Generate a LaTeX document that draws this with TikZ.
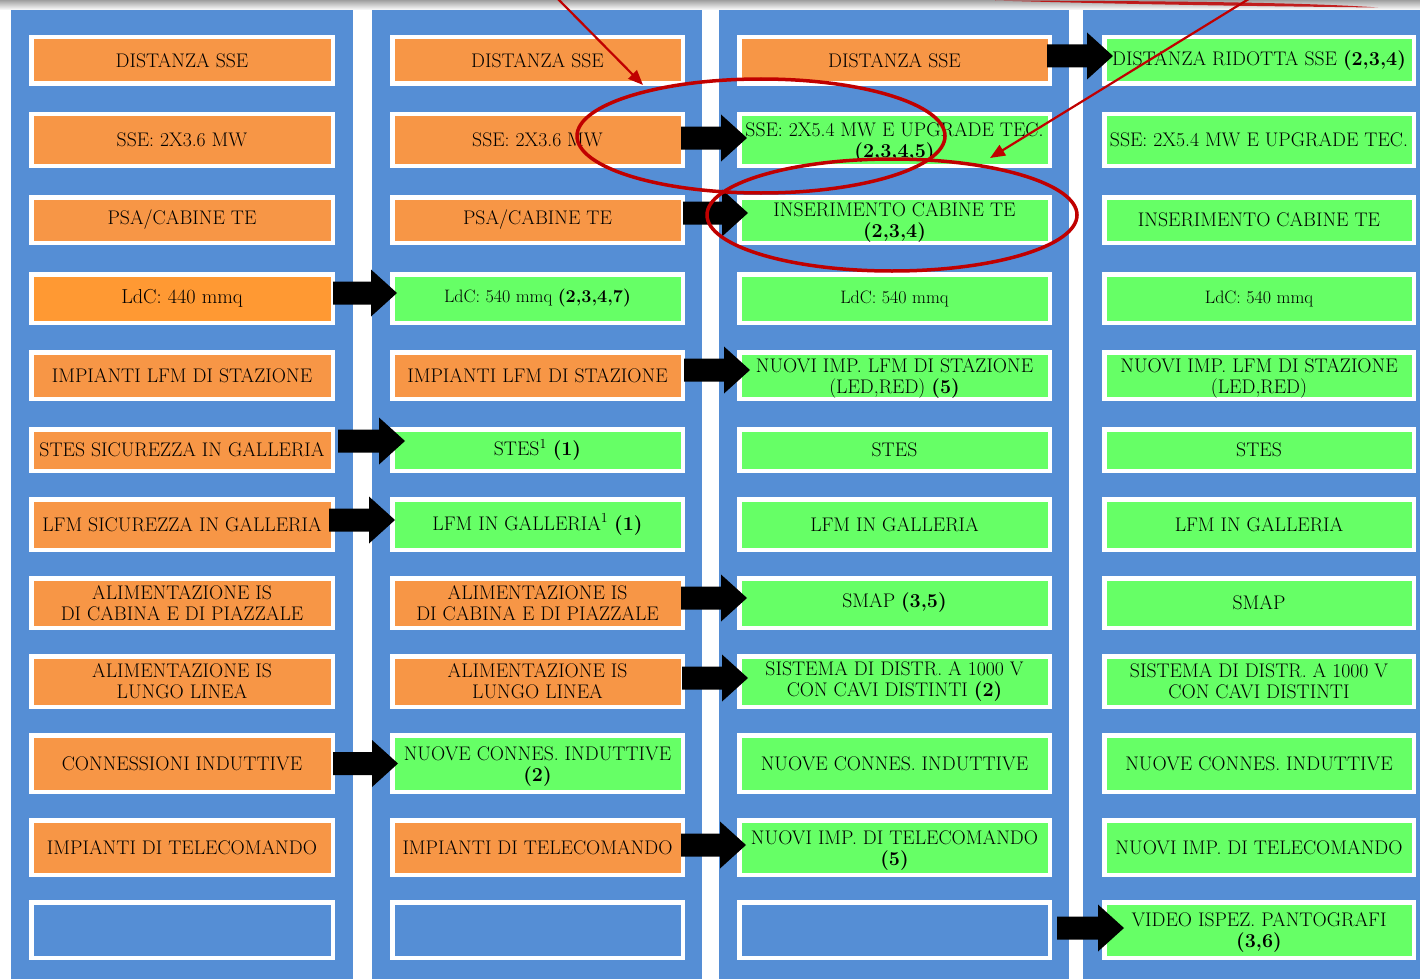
\documentclass[tikz,border=0pt]{standalone}
\usepackage{fontspec}
\usetikzlibrary{calc,arrows.meta}
\definecolor{colblue}{HTML}{558ED5}
\definecolor{boxorange}{HTML}{F79646}
\definecolor{ldcorange}{HTML}{FF9933}
\definecolor{boxgreen}{HTML}{66FF66}
\definecolor{markred}{HTML}{C00000}
\newcommand{\firstln}{\rule{0pt}{19.5pt}}
\tikzset{
  box/.style={draw=white, line width=4.5pt, inner sep=0pt, align=center,
    font=\fontsize{19.7}{21}\selectfont, text=black},
  ob/.style={box, fill=boxorange},
  gb/.style={box, fill=boxgreen},
  eb/.style={box, fill=colblue},
  ldc/.style={font=\fontsize{18}{21}\selectfont},
  c1/.style={minimum width=301.5pt},
  c2/.style={minimum width=290.5pt},
  c3/.style={minimum width=310.5pt},
  c4/.style={minimum width=309.5pt},
  r1/.style={minimum height=46.5pt},
  r2/.style={minimum height=51.5pt},
  r3/.style={minimum height=45.5pt},
  r4/.style={minimum height=48.5pt},
  r5/.style={minimum height=46.5pt},
  r6/.style={minimum height=41.5pt},
  r7/.style={minimum height=50.5pt},
  r8/.style={minimum height=49.5pt},
  r9/.style={minimum height=50.5pt},
  r10/.style={minimum height=56.5pt},
  r11/.style={minimum height=54.5pt},
  r12/.style={minimum height=55.5pt},
  column/.style={fill=colblue},
  redmark/.style={draw=markred, line width=3.5pt},
  redarrow/.style={draw=markred, line width=2.2pt, -{Triangle[length=15pt,width=12pt]}},
}
% block arrow: #1 source, #2 target, #3 vertical shift (down), #4 start offset, #5 tip offset
\newcommand{\blockarrow}[5]{%
  \fill[black] let \p1=(#1.east), \p2=(#2.west) in
    ({\x1+(#4pt)},{\y1-(#3pt)+11.5pt}) --
    ({\x2+(#5pt)-26pt},{\y1-(#3pt)+11.5pt}) --
    ({\x2+(#5pt)-26pt},{\y1-(#3pt)+23.5pt}) --
    ({\x2+(#5pt)},{\y1-(#3pt)}) --
    ({\x2+(#5pt)-26pt},{\y1-(#3pt)-23.5pt}) --
    ({\x2+(#5pt)-26pt},{\y1-(#3pt)-11.5pt}) --
    ({\x1+(#4pt)},{\y1-(#3pt)-11.5pt}) -- cycle;}
\begin{document}
\begin{tikzpicture}[x=1pt,y=-1pt]
\useasboundingbox (0,0) rectangle (1420,979);
\fill[white] (0,0) rectangle (1420,979);
\shade[top color=gray!75, bottom color=white] (0,0) rectangle (1420,10);
% columns
\fill[column] (11,10) rectangle (353,979);
\fill[column] (372,10) rectangle (702,979);
\fill[column] (719,10) rectangle (1069,979);
\fill[column] (1083,10) rectangle (1420,979);
% column 1
\node[ob,c1,r1] (a1) at (182,60.5) {DISTANZA SSE};
\node[ob,c1,r2] (a2) at (182,140) {SSE: 2X3.6 MW};
\node[ob,c1,r3] (a3) at (182,220) {PSA/CABINE TE};
\node[box,fill=ldcorange,c1,r4,font=\fontsize{20.2}{22}\selectfont] (a4) at (182,298.5) {LdC: 440 mmq};
\node[ob,c1,r5] (a5) at (182,375.5) {IMPIANTI LFM DI STAZIONE};
\node[ob,c1,r6] (a6) at (182,450) {STES SICUREZZA IN GALLERIA};
\node[ob,c1,r7] (a7) at (182,524.5) {LFM SICUREZZA IN GALLERIA};
\node[ob,c1,r8] (a8) at (182,603) {ALIMENTAZIONE IS\\DI CABINA E DI PIAZZALE};
\node[ob,c1,r9] (a9) at (182,681.5) {ALIMENTAZIONE IS\\LUNGO LINEA};
\node[ob,c1,r10] (a10) at (182,763.5) {CONNESSIONI INDUTTIVE};
\node[ob,c1,r11] (a11) at (182,847.5) {IMPIANTI DI TELECOMANDO};
\node[eb,c1,r12] (a12) at (182,930) {};
% column 2
\node[ob,c2,r1] (b1) at (537.5,60.5) {DISTANZA SSE};
\node[ob,c2,r2] (b2) at (537.5,140) {SSE: 2X3.6 MW};
\node[ob,c2,r3] (b3) at (537.5,220) {PSA/CABINE TE};
\node[gb,c2,r4,ldc] (b4) at (537.5,298.5) {LdC: 540 mmq \textbf{(2,3,4,7)}};
\node[ob,c2,r5] (b5) at (537.5,375.5) {IMPIANTI LFM DI STAZIONE};
\node[gb,c2,r6] (b6) at (537.5,450) {STES\textsuperscript{1} \textbf{(1)}};
\node[gb,c2,r7] (b7) at (537.5,524.5) {LFM IN GALLERIA\textsuperscript{1} \textbf{(1)}};
\node[ob,c2,r8] (b8) at (537.5,603) {ALIMENTAZIONE IS\\DI CABINA E DI PIAZZALE};
\node[ob,c2,r9] (b9) at (537.5,681.5) {ALIMENTAZIONE IS\\LUNGO LINEA};
\node[gb,c2,r10] (b10) at (537.5,763.5) {\firstln NUOVE CONNES. INDUTTIVE\\\textbf{(2)}};
\node[ob,c2,r11] (b11) at (537.5,847.5) {IMPIANTI DI TELECOMANDO};
\node[eb,c2,r12] (b12) at (537.5,930) {};
% column 3
\node[ob,c3,r1] (c1) at (894.5,60.5) {DISTANZA SSE};
\node[gb,c3,r2] (c2) at (894.5,140) {\firstln SSE: 2X5.4 MW E UPGRADE TEC.\\\textbf{(2,3,4,5)}};
\node[gb,c3,r3] (c3) at (894.5,220) {\firstln INSERIMENTO CABINE TE\\\textbf{(2,3,4)}};
\node[gb,c3,r4,ldc] (c4) at (894.5,298.5) {LdC: 540 mmq};
\node[gb,c3,r5] (c5) at (894.5,375.5) {\firstln NUOVI IMP. LFM DI STAZIONE\\(LED,RED) \textbf{(5)}};
\node[gb,c3,r6] (c6) at (894.5,450) {STES};
\node[gb,c3,r7] (c7) at (894.5,524.5) {LFM IN GALLERIA};
\node[gb,c3,r8] (c8) at (894.5,603) {SMAP \textbf{(3,5)}};
\node[gb,c3,r9] (c9) at (894.5,681.5) {SISTEMA DI DISTR. A 1000 V\\CON CAVI DISTINTI \textbf{(2)}};
\node[gb,c3,r10] (c10) at (894.5,763.5) {NUOVE CONNES. INDUTTIVE};
\node[gb,c3,r11] (c11) at (894.5,847.5) {\firstln NUOVI IMP. DI TELECOMANDO\\\textbf{(5)}};
\node[eb,c3,r12] (c12) at (894.5,930) {};
% column 4
\node[gb,c4,r1] (d1) at (1259,60.5) {DISTANZA RIDOTTA SSE \textbf{(2,3,4)}};
\node[gb,c4,r2] (d2) at (1259,140) {SSE: 2X5.4 MW E UPGRADE TEC.};
\node[gb,c4,r3] (d3) at (1259,220) {INSERIMENTO CABINE TE};
\node[gb,c4,r4,ldc] (d4) at (1259,298.5) {LdC: 540 mmq};
\node[gb,c4,r5] (d5) at (1259,375.5) {\firstln NUOVI IMP. LFM DI STAZIONE\\(LED,RED)};
\node[gb,c4,r6] (d6) at (1259,450) {STES};
\node[gb,c4,r7] (d7) at (1259,524.5) {LFM IN GALLERIA};
\node[gb,c4,r8] (d8) at (1259,603) {SMAP};
\node[gb,c4,r9] (d9) at (1259,681.5) {SISTEMA DI DISTR. A 1000 V\\CON CAVI DISTINTI};
\node[gb,c4,r10] (d10) at (1259,763.5) {NUOVE CONNES. INDUTTIVE};
\node[gb,c4,r11] (d11) at (1259,847.5) {NUOVI IMP. DI TELECOMANDO};
\node[gb,c4,r12] (d12) at (1259,930) {\firstln VIDEO ISPEZ. PANTOGRAFI\\\textbf{(3,6)}};
% block arrows
\blockarrow{c1}{d1}{-4.5}{-5}{11}
\blockarrow{b2}{c2}{-2}{-4}{10}
\blockarrow{b3}{c3}{-7}{-2}{11}
\blockarrow{a4}{b4}{-5.5}{-2}{7}
\blockarrow{b5}{c5}{-5.5}{-1}{13}
\blockarrow{a6}{b6}{-9}{3}{15}
\blockarrow{a7}{b7}{-4.5}{-6}{5}
\blockarrow{b8}{c8}{-5}{-4}{10}
\blockarrow{b9}{c9}{-3.5}{-3}{11}
\blockarrow{a10}{b10}{0}{-2}{8}
\blockarrow{b11}{c11}{-2.5}{-4}{9}
\blockarrow{c12}{d12}{-2}{5}{22}
% red annotations
\draw[redmark] (761,136) ellipse [x radius=184, y radius=57];
\draw[redmark] (892,215) ellipse [x radius=185, y radius=56];
\coordinate (ra1s) at (556,-3);
\coordinate (ra1e) at (643,85);
\coordinate (ra2s) at (1252,-3);
\coordinate (ra2e) at (990,158);
\draw[redarrow] (ra1s) -- (ra1e);
\draw[redarrow] (ra2s) -- (ra2e);
\fill[markred, opacity=0.85] (995,0.5) .. controls (1150,1) and (1300,2) .. (1378,7.5)
  .. controls (1290,6.5) and (1150,5) .. (995,0.5) -- cycle;
\end{tikzpicture}
\end{document}
